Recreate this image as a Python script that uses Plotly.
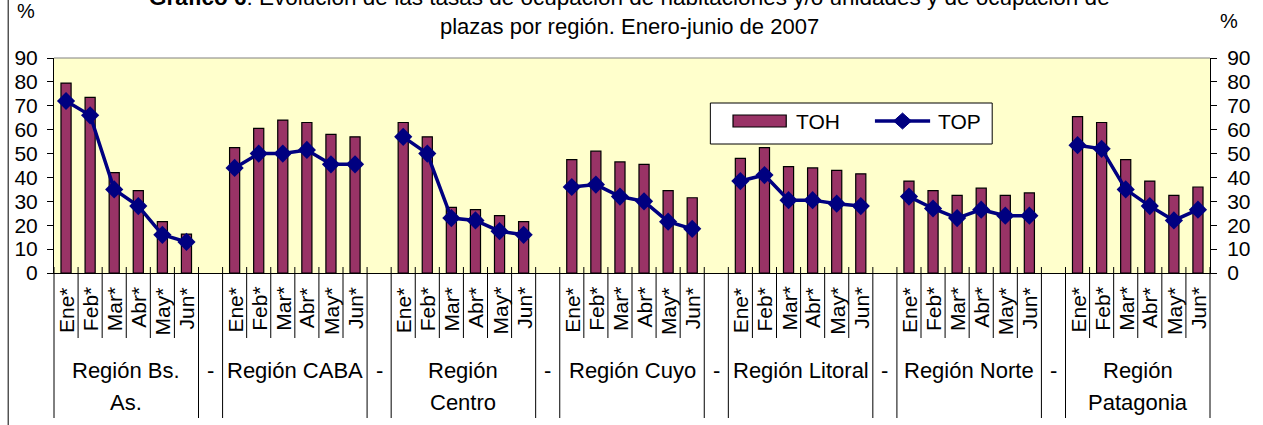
import plotly.graph_objects as go

# ---------------- data ----------------
months = ["Ene*", "Feb*", "Mar*", "Abr*", "May*", "Jun*"]
regions = ["Región Bs. As.", "Región CABA", "Región Centro", "Región Cuyo",
           "Región Litoral", "Región Norte", "Región Patagonia"]
region_label_lines = [["Región Bs.", "As."], ["Región CABA"], ["Región", "Centro"],
                      ["Región Cuyo"], ["Región Litoral"], ["Región Norte"],
                      ["Región", "Patagonia"]]
separator_label = "-"

toh_bsas = [79.5, 73.5, 42.0, 34.5, 21.5, 16.3]
toh_caba = [52.5, 60.5, 64.0, 63.0, 58.0, 57.0]
toh_centro = [63.0, 57.0, 27.5, 26.5, 24.0, 21.5]
toh_cuyo = [47.5, 51.0, 46.5, 45.5, 34.5, 31.5]
toh_litoral = [48.0, 52.5, 44.5, 44.0, 43.0, 41.5]
toh_norte = [38.5, 34.5, 32.5, 35.5, 32.5, 33.5]
toh_patagonia = [65.5, 63.0, 47.5, 38.5, 32.5, 36.0]

top_bsas = [72.0, 66.0, 35.0, 28.0, 16.0, 13.0]
top_caba = [44.0, 50.0, 50.0, 51.5, 45.5, 45.5]
top_centro = [57.0, 50.0, 23.0, 22.0, 17.5, 16.0]
top_cuyo = [36.0, 37.0, 32.0, 30.0, 21.5, 18.5]
top_litoral = [38.5, 41.0, 30.5, 30.5, 29.0, 28.0]
top_norte = [32.0, 27.0, 23.0, 26.5, 24.0, 24.0]
top_patagonia = [53.5, 52.0, 35.0, 28.0, 22.0, 26.5]

toh_series = [toh_bsas, toh_caba, toh_centro, toh_cuyo, toh_litoral, toh_norte, toh_patagonia]
top_series = [top_bsas, top_caba, top_centro, top_cuyo, top_litoral, top_norte, top_patagonia]

y_ticks = [0, 10, 20, 30, 40, 50, 60, 70, 80, 90]

# ---------------- geometry ----------------
W, H = 1263, 425
PL, PR, PT, PB = 54, 1227, 58, 273
FONT = "Liberation Sans, Arial, sans-serif"
n_per = len(months) + 1
n_cat = len(regions) * n_per - 1


def px2x(px):
    return (px - PL) / (PR - PL)


def px2y(py):
    return (PB - py) / (PB - PT)


bar_x, bar_y, line_x, line_y = [], [], [], []
for r, (toh, top) in enumerate(zip(toh_series, top_series)):
    for m in range(len(months)):
        idx = r * n_per + m
        bar_x.append(idx)
        bar_y.append(toh[m])
        line_x.append(idx)
        line_y.append(top[m])
    if r < len(regions) - 1:
        line_x.append(r * n_per + len(months))
        line_y.append(None)

fig = go.Figure()
fig.add_trace(go.Bar(
    x=bar_x, y=bar_y, name="TOH", width=0.42,
    marker=dict(color="#993366", line=dict(color="black", width=1.2)),
    showlegend=False,
))
fig.add_trace(go.Scatter(
    x=line_x, y=line_y, name="TOP", mode="lines+markers", yaxis="y2",
    connectgaps=False,
    line=dict(color="#000080", width=3.5),
    marker=dict(symbol="diamond", size=14, color="#000080"),
    showlegend=False,
))

shapes = []
# plot area top border
shapes.append(dict(type="line", xref="paper", yref="paper", x0=0, x1=1, y0=1, y1=1,
                   line=dict(color="#808080", width=1)))
# category boundary lines
for k in range(n_cat + 1):
    long_line = (k % n_per) in (0, n_per - 1)
    xp = k / n_cat
    shapes.append(dict(type="line", xref="paper", yref="paper", x0=xp, x1=xp,
                       y0=px2y(267), y1=px2y(418 if long_line else 338),
                       line=dict(color="black", width=1)))
# left frame line of the chart area
shapes.append(dict(type="line", xref="paper", yref="paper", x0=px2x(7.5), x1=px2x(7.5),
                   y0=px2y(0), y1=px2y(425), line=dict(color="black", width=1)))
# legend box
shapes.append(dict(type="rect", xref="paper", yref="paper",
                   x0=px2x(720), x1=px2x(1006), y0=px2y(103), y1=px2y(144),
                   fillcolor="white", line=dict(color="black", width=1), layer="above"))
shapes.append(dict(type="rect", xref="paper", yref="paper",
                   x0=px2x(743), x1=px2x(797), y0=px2y(115), y1=px2y(127),
                   fillcolor="#993366", line=dict(color="black", width=1.2), layer="above"))
shapes.append(dict(type="line", xref="paper", yref="paper",
                   x0=px2x(887), x1=px2x(943), y0=px2y(121), y1=px2y(121),
                   line=dict(color="#000080", width=3.5), layer="above"))
cx, cy, dx, dy = 915, 121, 9, 8
path = "M{},{} L{},{} L{},{} L{},{} Z".format(
    px2x(cx - dx), px2y(cy), px2x(cx), px2y(cy - dy),
    px2x(cx + dx), px2y(cy), px2x(cx), px2y(cy + dy))
shapes.append(dict(type="path", xref="paper", yref="paper", path=path,
                   fillcolor="#000080", line=dict(color="#000080", width=1), layer="above"))

ann = []
# month labels
for r in range(len(regions)):
    for m, lab in enumerate(months):
        ann.append(dict(x=r * n_per + m, xref="x", y=px2y(285), yref="paper",
                        text=lab, textangle=-90, showarrow=False,
                        xanchor="center", yanchor="top",
                        font=dict(family=FONT, size=21, color="black")))
# region labels
for r, lines in enumerate(region_label_lines):
    cxr = r * n_per + (len(months) - 1) / 2
    for i, ln in enumerate(lines):
        ann.append(dict(x=cxr, xref="x", y=px2y(370 + 32 * i), yref="paper",
                        text=ln, showarrow=False, xanchor="center", yanchor="middle",
                        font=dict(family=FONT, size=22, color="black")))
    if r < len(regions) - 1:
        ann.append(dict(x=r * n_per + len(months), xref="x", y=px2y(370), yref="paper",
                        text=separator_label, showarrow=False, xanchor="center",
                        yanchor="middle", font=dict(family=FONT, size=22, color="black")))
# axis unit labels
ann.append(dict(x=px2x(26), xref="paper", y=px2y(11), yref="paper", text="%",
                showarrow=False, xanchor="center", yanchor="middle",
                font=dict(family=FONT, size=20, color="black")))
ann.append(dict(x=px2x(1246), xref="paper", y=px2y(21), yref="paper", text="%",
                showarrow=False, xanchor="center", yanchor="middle",
                font=dict(family=FONT, size=20, color="black")))
# title
ann.append(dict(x=px2x(638), xref="paper", y=px2y(-3), yref="paper",
                text="<b>Gráfico 6</b>: Evolución de las tasas de ocupación de habitaciones y/o unidades y de ocupación de",
                showarrow=False, xanchor="center", yanchor="middle",
                font=dict(family=FONT, size=22.5, color="black")))
ann.append(dict(x=px2x(638), xref="paper", y=px2y(26), yref="paper",
                text="plazas por región. Enero-junio de 2007",
                showarrow=False, xanchor="center", yanchor="middle",
                font=dict(family=FONT, size=22, color="black")))
# legend texts
ann.append(dict(x=px2x(805), xref="paper", y=px2y(121), yref="paper", text="TOH",
                showarrow=False, xanchor="left", yanchor="middle",
                font=dict(family=FONT, size=21, color="black")))
ann.append(dict(x=px2x(949), xref="paper", y=px2y(121), yref="paper", text="TOP",
                showarrow=False, xanchor="left", yanchor="middle",
                font=dict(family=FONT, size=21, color="black")))

axis_common = dict(range=[0, 90], tickvals=y_ticks, showgrid=False, zeroline=False,
                   showline=True, linecolor="black", linewidth=1, ticks="outside",
                   ticklen=6, tickcolor="black",
                   tickfont=dict(family=FONT, size=21, color="black"))

fig.update_layout(
    width=W, height=H,
    margin=dict(l=PL, r=W - PR, t=PT, b=H - PB, pad=0),
    paper_bgcolor="white", plot_bgcolor="#FFFFCC",
    showlegend=False, bargap=0,
    xaxis=dict(range=[-0.5, n_cat - 0.5], showticklabels=False, showgrid=False,
               zeroline=False, showline=True, linecolor="black", linewidth=1,
               ticks="", fixedrange=True),
    yaxis=dict(side="left", ticklabelstandoff=5, **axis_common),
    yaxis2=dict(side="right", overlaying="y", ticklabelstandoff=6, **axis_common),
    shapes=shapes, annotations=ann,
)

fig.write_html(
    "out.html",
    config={"displayModeBar": False, "staticPlot": True},
    post_script="document.body.style.margin='0';document.body.style.padding='0';"
                "document.body.style.overflow='hidden';",
)
